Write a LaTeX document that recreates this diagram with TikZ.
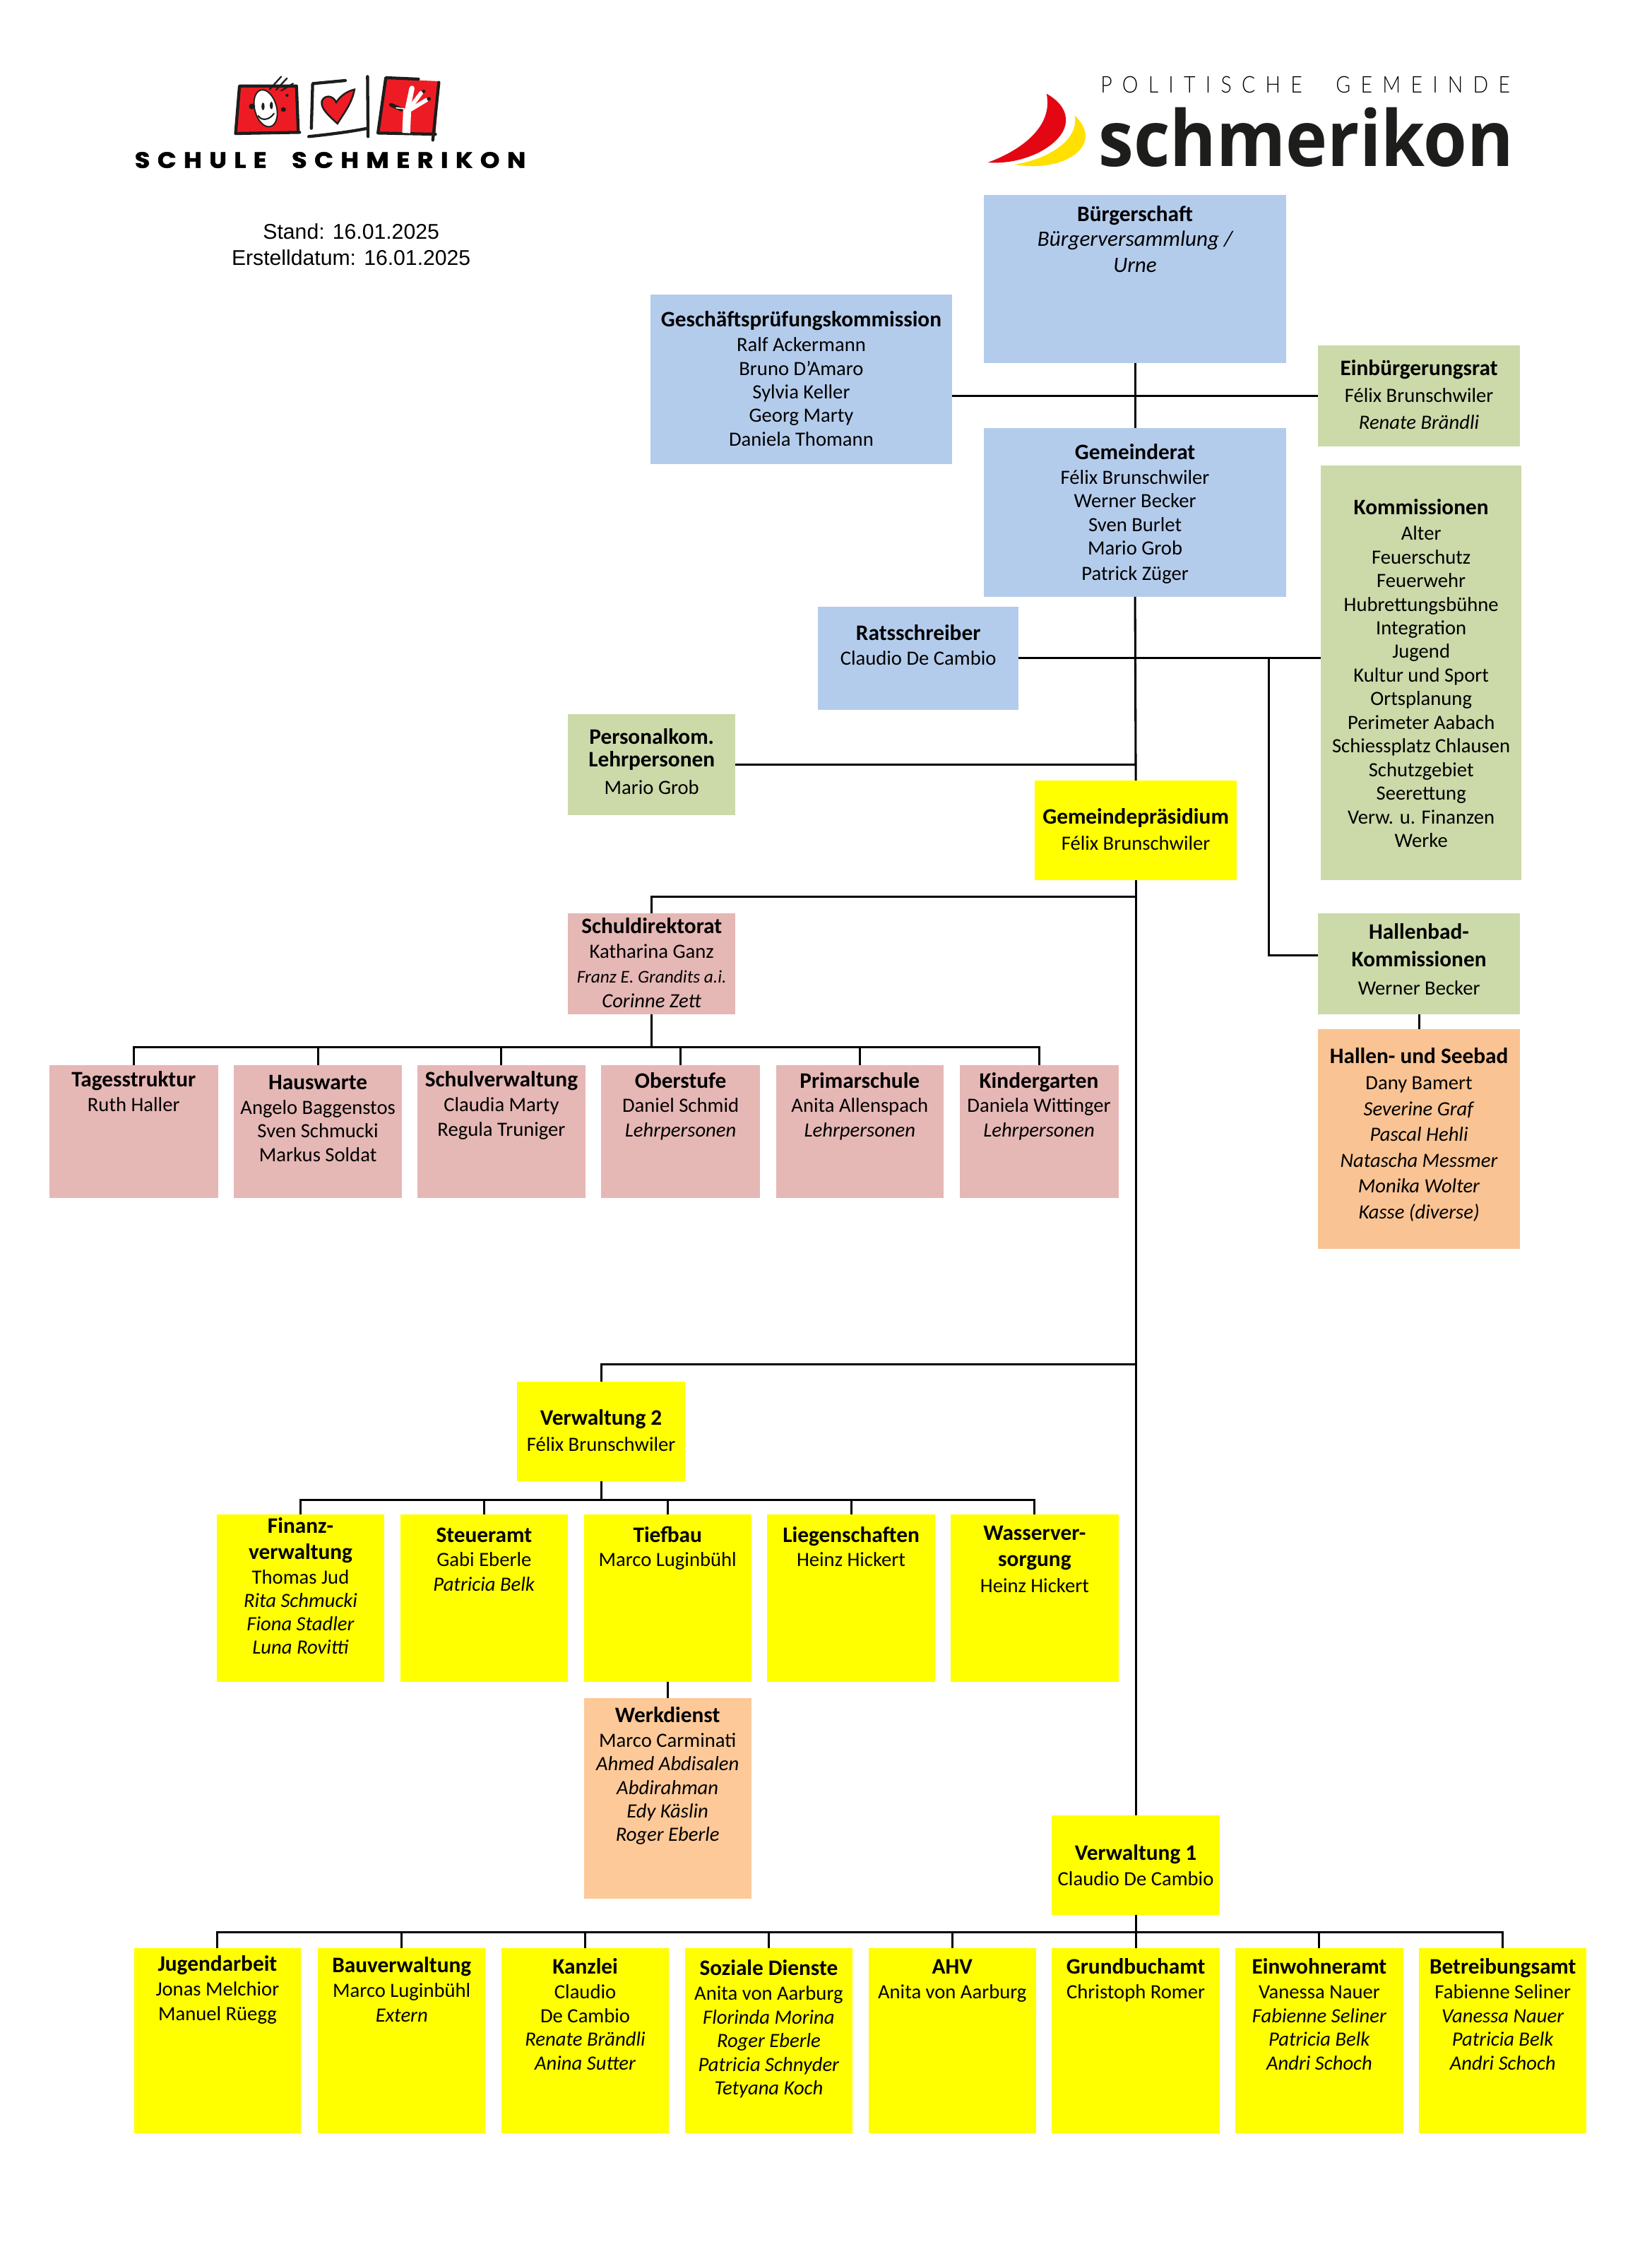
\documentclass[tikz,border=0pt]{standalone}
\usepackage{fontspec}
\setmainfont{Carlito}
\newfontfamily\arialfont{Liberation Sans}
\newfontfamily\schulefont[LetterSpace=30,FakeBold=1.6]{Poppins}
\newfontfamily\gemfont[LetterSpace=50,UprightFont=* Light]{Lato}
\newfontfamily\schmerfont{Open Sans}
\definecolor{cblue}{HTML}{B4CCEC}
\definecolor{cgreen}{HTML}{CCD9A9}
\definecolor{cpink}{HTML}{E5B7B5}
\definecolor{corange}{HTML}{F9C393}
\definecolor{cpeach}{HTML}{FDC998}
\definecolor{cyell}{HTML}{FFFF00}
\definecolor{logored}{HTML}{ED1C24}
\definecolor{sailred}{HTML}{E30613}
\definecolor{sailyel}{HTML}{FFE000}
\definecolor{inkdark}{HTML}{1D1D1B}
\tikzset{
  orgbox/.style={inner sep=0pt,outer sep=0pt,draw=none},
  conn/.style={line width=1.5pt,black},
  inkline/.style={line width=2.1pt,inkdark,line cap=round,line join=round},
}
\newcommand{\ttl}[1]{{\bfseries\fontsize{15.3}{16}\selectfont #1}}
\newcommand{\sml}[1]{{\itshape\fontsize{12.4}{14}\selectfont #1}}
\newcommand{\lrg}[1]{{\itshape\fontsize{15.2}{16}\selectfont #1}}
% name, x1,y1,x2,y2, colour, first baseline offset, line skip, text
\newcommand{\obox}[9]{%
  \pgfmathsetmacro{\bw}{#4-#2}\pgfmathsetmacro{\bh}{#5-#3}%
  \pgfmathsetmacro{\bx}{(#2+#4)/2}\pgfmathsetmacro{\by}{(#3+#5)/2}%
  \node[orgbox,fill=#6] (#1) at (\bx,\by) {\parbox[c][\bh pt][t]{\bw pt}{\centering\fontsize{14}{#8}\selectfont\rule{0pt}{#7pt}#9\par}};%
}
\begin{document}
\begin{tikzpicture}[x=1pt,y=-1pt]
\useasboundingbox (0,0) rectangle (1143.2,1568);
\fill[white] (0,0) rectangle (1143.2,1568);

% ---- School logo
\begin{scope}[shift={(88,44)},x=0.1808pt,y=-0.1629pt]
  \fill[logored] (430,95) -- (645,92) -- (655,290) -- (415,295) -- cycle;
  \draw[inkline] (655,290) -- (648,95) -- (430,95) -- (415,297) -- (660,292);
  \draw[inkdark,line width=.9pt,fill=white,rotate around={15:(530,190)}] (530,190) ellipse (42 and 80);
  \draw[inkline,line width=1.1pt] (545,110) -- (590,55) (570,112) -- (612,62) (590,115) -- (635,85);
  \fill[inkdark] (478,182) circle (12) (598,195) circle (10) (612,135) circle (6);
  \fill[inkdark] (520,182) ellipse (6 and 16) (552,178) ellipse (6 and 16);
  \draw[inkline,line width=1pt] (502,222) .. controls (515,245) and (545,240) .. (562,212);
  \draw[inkline] (835,72) -- (710,85) -- (705,275);
  \draw[inkline] (695,310) .. controls (780,300) and (850,290) .. (920,275);
  \draw[inkline] (920,55) -- (922,310);
  \draw[inkdark,line width=1.2pt,fill=logored] (805,255) .. controls (770,220) and (740,190) .. (745,160) .. controls (755,130) and (790,135) .. (800,165) .. controls (820,130) and (850,115) .. (870,110) .. controls (860,170) and (830,210) .. (805,255) -- cycle;
  \fill[logored] (985,65) -- (1195,75) -- (1180,300) -- (965,290) -- cycle;
  \draw[inkline] (1115,66) -- (990,60) -- (960,295) -- (1180,300);
  \draw[inkline] (1193,80) -- (1170,325);
  \draw[white,line width=5.5pt] (1068,295) -- (1072,195);
  \draw[white,line width=3.6pt,line cap=round] (1072,200) -- (1090,105);
  \draw[white,line width=2.8pt,line cap=round] (1078,195) -- (1125,125) (1085,195) -- (1145,155);
  \fill[inkdark] (1135,118) circle (7) (1155,150) circle (8);
  \draw[inkdark,line width=2.6pt,line cap=round] (1010,175) -- (1050,195);
  \draw[white,line width=.8pt,line cap=round] (1030,188) -- (1060,192);
  \node[inner sep=0pt,anchor=south west] (schulelogo) at (28,445) {\resizebox{270.5pt}{11pt}{\schulefont\bfseries SCHULE\hspace{.5em} SCHMERIKON}};
\end{scope}

% ---- Gemeinde logo
\begin{scope}[shift={(674.4,44)},x=0.2431pt,y=-0.1629pt]
  \fill[sailyel] (285,220) .. controls (335,290) and (325,370) .. (250,415) .. controls (205,440) and (150,440) .. (115,428) .. controls (200,410) and (300,330) .. (285,220) -- cycle;
  \fill[sailred] (205,128) .. controls (280,190) and (285,300) .. (180,380) .. controls (130,415) and (80,425) .. (38,420) .. controls (130,370) and (225,270) .. (205,128) -- cycle;
  \node[inner sep=0pt,anchor=south west] (gemlogo) at (358,125) {\resizebox{283.4pt}{11.4pt}{\gemfont POLITISCHE\hspace{.9em} GEMEINDE}};
  \node[inner sep=0pt,anchor=south west,text=inkdark] (schmerlogo) at (353,440) {\resizebox{287pt}{40.7pt}{\schmerfont\bfseries schmerikon}};
\end{scope}

% ---- Date
\node[inner sep=0pt,anchor=base,font=\arialfont\fontsize{14.75}{17.6}\selectfont,align=center] (stand) at (243,165.5) {Stand: 16.01.2025};
\node[inner sep=0pt,anchor=base,font=\arialfont\fontsize{14.75}{17.6}\selectfont,align=center] (erst) at (243,183.5) {Erstelldatum: 16.01.2025};

% ---- Top
\obox{buerger}{681}{135}{890}{251}{cblue}{18}{18}{\ttl{Bürgerschaft}\\[-.5pt]\lrg{Bürgerversammlung /}\\\lrg{Urne}}
\obox{gpk}{450}{204}{659}{321}{cblue}{22}{16.3}{\ttl{Geschäftsprüfungskommission}\\[1pt]Ralf Ackermann\\Bruno D’Amaro\\Sylvia Keller\\Georg Marty\\Daniela Thomann}
\obox{einb}{912}{239}{1052}{309}{cgreen}{21}{18.5}{\ttl{Einbürgerungsrat}\\Félix Brunschwiler\\\textit{Renate Brändli}}
\obox{gemrat}{681}{296}{890}{413}{cblue}{22}{16.4}{\ttl{Gemeinderat}\\[.5pt]Félix Brunschwiler\\Werner Becker\\Sven Burlet\\Mario Grob\\[1pt]Patrick Züger}
\obox{komm}{914}{322}{1053}{609}{cgreen}{34}{16.35}{\ttl{Kommissionen}\\[1.4pt]Alter\\Feuerschutz\\Feuerwehr\\Hubrettungsbühne\\Integration\\Jugend\\Kultur und Sport\\Ortsplanung\\Perimeter Aabach\\Schiessplatz Chlausen\\Schutzgebiet\\Seerettung\\Verw. u. Finanzen\\Werke}
\obox{rats}{566}{420}{705}{491}{cblue}{23}{16.5}{\ttl{Ratsschreiber}\\[.5pt]Claudio De Cambio}
\obox{pk}{393}{494}{509}{564}{cgreen}{21}{15.5}{\ttl{Personalkom.}\\\ttl{Lehrpersonen}\\[3.5pt]Mario Grob}
\obox{praes}{716}{540}{856}{609}{cyell}{30}{18}{\ttl{Gemeindepräsidium}\\Félix Brunschwiler}
\obox{sdir}{393}{632}{509}{702}{cpink}{14}{17}{\ttl{Schuldirektorat}\\Katharina Ganz\\\sml{Franz E. Grandits a.i.}\\\textit{Corinne Zett}}
\obox{hbk}{912}{632}{1052}{702}{cgreen}{18}{19}{\ttl{Hallenbad-}\\\ttl{Kommissionen}\\[.6pt]Werner Becker}
\obox{hsb}{912}{712}{1052}{864}{corange}{24}{17.9}{\ttl{Hallen- und Seebad}\\Dany Bamert\\\textit{Severine Graf}\\\textit{Pascal Hehli}\\\textit{Natascha Messmer}\\\textit{Monika Wolter}\\\textit{Kasse (diverse)}}

% ---- School row
\obox{tages}{34}{737}{151}{829}{cpink}{15}{17}{\ttl{Tagesstruktur}\\Ruth Haller}
\obox{haus}{162}{737}{278}{829}{cpink}{17}{16.3}{\ttl{Hauswarte}\\[.7pt]Angelo Baggenstos\\Sven Schmucki\\Markus Soldat}
\obox{sverw}{289}{737}{405}{829}{cpink}{15}{17}{\ttl{Schulverwaltung}\\Claudia Marty\\Regula Truniger}
\obox{ober}{416}{737}{526}{829}{cpink}{16}{16.8}{\ttl{Oberstufe}\\Daniel Schmid\\\textit{Lehrpersonen}}
\obox{prim}{537}{737}{653}{829}{cpink}{16}{16.8}{\ttl{Primarschule}\\Anita Allenspach\\\textit{Lehrpersonen}}
\obox{kind}{664}{737}{774}{829}{cpink}{16}{16.8}{\ttl{Kindergarten}\\Daniela Wittinger\\\textit{Lehrpersonen}}

% ---- Verwaltung 2
\obox{vw2}{358}{956}{474}{1025}{cyell}{30}{18}{\ttl{Verwaltung 2}\\Félix Brunschwiler}
\obox{fin}{150}{1048}{266}{1164}{cyell}{13}{16.2}{\ttl{Finanz-}\\[1.8pt]\ttl{verwaltung}\\[.8pt]Thomas Jud\\\textit{Rita Schmucki}\\\textit{Fiona Stadler}\\\textit{Luna Rovitti}}
\obox{steuer}{277}{1048}{393}{1164}{cyell}{19}{17}{\ttl{Steueramt}\\Gabi Eberle\\\textit{Patricia Belk}}
\obox{tief}{404}{1048}{520}{1164}{cyell}{19}{17}{\ttl{Tiefbau}\\Marco Luginbühl}
\obox{lieg}{531}{1048}{647}{1164}{cyell}{19}{17}{\ttl{Liegenschaften}\\Heinz Hickert}
\obox{wass}{658}{1048}{774}{1164}{cyell}{18}{18}{\ttl{Wasserver-}\\\ttl{sorgung}\\Heinz Hickert}
\obox{werk}{404}{1175}{520}{1314}{cpeach}{17}{16.3}{\ttl{Werkdienst}\\[.7pt]Marco Carminati\\\textit{Ahmed Abdisalen}\\\textit{Abdirahman}\\\textit{Edy Käslin}\\\textit{Roger Eberle}}

% ---- Verwaltung 1
\obox{vw1}{728}{1256}{844}{1325}{cyell}{31}{18}{\ttl{Verwaltung 1}\\Claudio De Cambio}
\obox{jug}{93}{1348}{208}{1476}{cyell}{16}{17}{\ttl{Jugendarbeit}\\[.2pt]Jonas Melchior\\Manuel Rüegg}
\obox{bau}{220}{1348}{336}{1476}{cyell}{17}{17}{\ttl{Bauverwaltung}\\Marco Luginbühl\\\textit{Extern}}
\obox{kanz}{347}{1348}{463}{1476}{cyell}{18}{16.4}{\ttl{Kanzlei}\\[.6pt]Claudio\\De Cambio\\\textit{Renate Brändli}\\\textit{Anina Sutter}}
\obox{soz}{474}{1348}{590}{1476}{cyell}{19}{16.4}{\ttl{Soziale Dienste}\\[.6pt]Anita von Aarburg\\\textit{Florinda Morina}\\\textit{Roger Eberle}\\\textit{Patricia Schnyder}\\\textit{Tetyana Koch}}
\obox{ahv}{601}{1348}{717}{1476}{cyell}{18}{17}{\ttl{AHV}\\Anita von Aarburg}
\obox{grund}{728}{1348}{844}{1476}{cyell}{18}{17}{\ttl{Grundbuchamt}\\Christoph Romer}
\obox{einw}{855}{1348}{971}{1476}{cyell}{18}{16.4}{\ttl{Einwohneramt}\\[.6pt]Vanessa Nauer\\\textit{Fabienne Seliner}\\\textit{Patricia Belk}\\\textit{Andri Schoch}}
\obox{betr}{982}{1348}{1098}{1476}{cyell}{18}{16.4}{\ttl{Betreibungsamt}\\[.6pt]Fabienne Seliner\\\textit{Vanessa Nauer}\\\textit{Patricia Belk}\\\textit{Andri Schoch}}

% ---- Connectors
\coordinate (hbjoin) at (878,456);
\begin{scope}[conn]
  \draw (buerger.south) -- (gemrat.north);
  \draw (einb.west) -- (einb.west -| gpk.east);
  \draw (gemrat.south) -- (praes.north);
  \draw (rats.east) -- (rats.east -| komm.west);
  \draw (rats.east -| hbjoin) |- ([yshift=6pt]hbk.west);
  \draw (pk.east) -- (pk.east -| praes.north);
  \draw (praes.south) -- (vw1.north);
  \draw (hbk.south) -- (hsb.north);
  \draw (tief.south) -- (werk.north);
  % Schuldirektorat
  \draw (praes.south) -- ++(0,11.5) -| (sdir.north);
  \foreach \c in {tages,haus,sverw,ober,prim,kind}
    \draw (sdir.south) -- ++(0,22.5) -| (\c.north);
  % Verwaltung 2
  \draw (vw2.north) -- ++(0,-12) -| (vw1.north);
  \foreach \c in {fin,steuer,tief,lieg,wass}
    \draw (vw2.south) -- ++(0,13) -| (\c.north);
  % Verwaltung 1
  \foreach \c in {jug,bau,kanz,soz,ahv,grund,einw,betr}
    \draw (vw1.south) -- ++(0,12) -| (\c.north);
\end{scope}
\end{tikzpicture}
\end{document}
